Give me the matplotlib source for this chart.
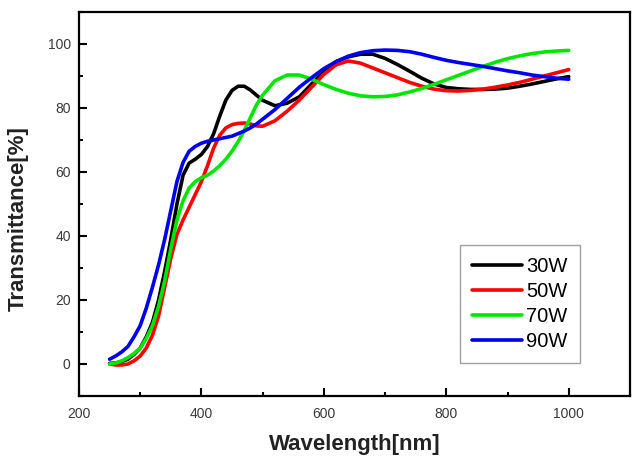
import matplotlib
matplotlib.use("Agg")
import matplotlib.pyplot as plt
from matplotlib.ticker import MultipleLocator

plt.rcParams['font.family'] = ['Liberation Sans', 'DejaVu Sans']

# comprimento de onda (nm)
wavelength = [250, 260, 270, 280, 290, 300, 310, 320, 330, 340, 350, 360, 370,
              380, 390, 400, 410, 420, 430, 440, 450, 460, 470, 480, 490, 500,
              520, 540, 560, 580, 600, 620, 640, 660, 680, 700, 720, 740, 760,
              780, 800, 820, 840, 860, 880, 900, 920, 940, 960, 980, 1000]

t_30w = [0.2, 0.3, 0.8, 1.5, 3.0, 5.0, 8.5, 13.0, 20.0, 29.0, 39.0, 50.0, 59.0,
         62.8, 64.0, 65.5, 68.0, 72.0, 77.5, 82.5, 85.5, 86.8, 86.8, 85.6, 84.0, 82.4,
         80.7, 81.5, 83.5, 87.5, 91.5, 94.5, 96.0, 96.8, 96.8, 95.5, 93.6, 91.5, 89.3,
         87.5, 86.4, 86.0, 85.8, 85.8, 85.9, 86.2, 86.8, 87.5, 88.3, 89.1, 89.8]

t_50w = [0.0, -0.3, -0.3, 0.0, 1.0, 2.5, 5.0, 9.0, 15.0, 24.0, 33.0, 40.5, 45.0,
         49.0, 53.0, 57.0, 62.0, 67.5, 71.5, 73.8, 74.8, 75.2, 75.3, 75.0, 74.4, 74.3,
         76.0, 79.0, 82.5, 86.5, 90.5, 93.5, 94.7, 94.0, 92.5, 91.0, 89.5, 88.0, 86.8,
         85.9, 85.4, 85.3, 85.5, 85.9, 86.5, 87.2, 88.0, 89.0, 90.0, 91.0, 92.0]

t_70w = [0.0, 0.3, 1.0, 2.0, 3.3, 5.0, 8.0, 12.0, 18.0, 26.0, 36.0, 45.0, 51.0,
         55.0, 57.0, 58.2, 59.0, 60.3, 62.0, 64.0, 66.5, 69.5, 73.0, 77.0, 81.0, 84.0,
         88.5, 90.3, 90.3, 89.0, 87.3, 85.8, 84.6, 83.8, 83.5, 83.6, 84.1, 85.0, 86.1,
         87.4, 88.8, 90.2, 91.6, 93.0, 94.3, 95.4, 96.3, 97.0, 97.5, 97.8, 98.0]

t_90w = [1.5, 2.5, 3.8, 5.5, 8.5, 12.0, 17.5, 24.0, 31.0, 39.0, 48.0, 57.0, 63.0,
         66.5, 68.0, 69.0, 69.6, 70.0, 70.4, 70.8, 71.2, 72.0, 72.8, 73.8, 75.0, 76.5,
         79.5, 83.0, 86.5, 89.5, 92.3, 94.5, 96.2, 97.3, 97.9, 98.1, 98.0, 97.6, 96.8,
         95.8, 94.9, 94.2, 93.6, 93.0, 92.3, 91.6, 91.0, 90.3, 89.8, 89.3, 89.0]

series = [("30W", t_30w, "#000000"),
          ("50W", t_50w, "#ff0000"),
          ("70W", t_70w, "#00e600"),
          ("90W", t_90w, "#0000ee")]

fig = plt.figure(figsize=(6.34, 4.61), dpi=100)
ax = fig.add_axes([0.1246, 0.141, 0.869, 0.833])

for nome, valores, cor in series:
    ax.plot(wavelength, valores, color=cor, linewidth=2.6, label=nome,
            solid_capstyle='round')

ax.set_xlim(200, 1100)
ax.set_ylim(-10, 110)
ax.xaxis.set_major_locator(MultipleLocator(200))
ax.xaxis.set_minor_locator(MultipleLocator(100))
ax.yaxis.set_major_locator(MultipleLocator(20))
ax.yaxis.set_minor_locator(MultipleLocator(10))

ax.tick_params(which='both', direction='in', top=False, right=False,
               labelcolor='#3a3a3a', labelsize=10, width=1.5)
ax.tick_params(which='major', length=6)
ax.tick_params(which='minor', length=3)
ax.tick_params(axis='x', pad=8)
ax.tick_params(axis='y', pad=6)

for lado in ax.spines.values():
    lado.set_linewidth(1.6)

ax.set_xlabel('Wavelength[nm]', fontsize=16, fontweight='bold', color='#222222',
              labelpad=9)
ax.set_ylabel('Transmittance[%]', fontsize=16, fontweight='bold', color='#222222')
ax.yaxis.set_label_coords(-0.092, 0.461)

leg = ax.legend(loc='upper left', bbox_to_anchor=(0.6915, 0.393), fontsize=14.5,
                handlelength=2.5, handletextpad=0.2, labelspacing=0.3,
                borderpad=0.6, borderaxespad=0, fancybox=False, frameon=True)
leg.get_frame().set_edgecolor('#888888')
leg.get_frame().set_linewidth(1.0)

fig.savefig('out.png', dpi=100)
